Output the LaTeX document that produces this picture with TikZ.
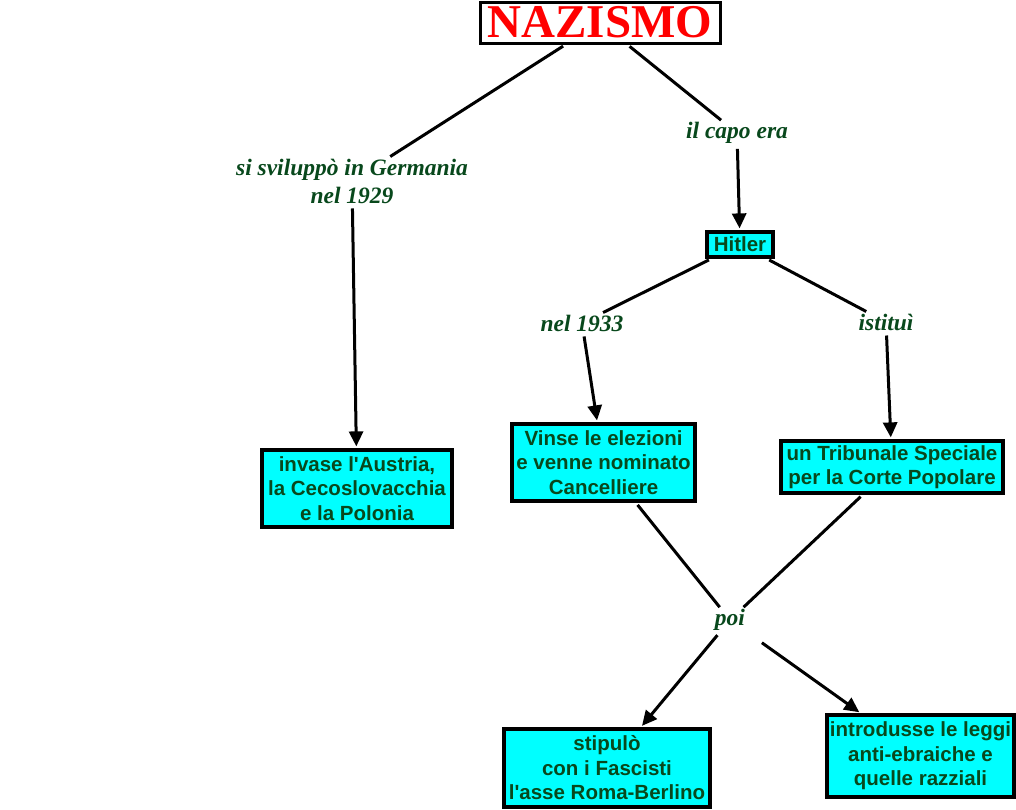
\documentclass[tikz,border=0pt]{standalone}
\usepackage{fontspec}
\setmainfont{Liberation Serif}
\setsansfont{Liberation Sans}
\usetikzlibrary{arrows.meta}
\definecolor{txtgreen}{RGB}{8,72,28}
\definecolor{boxcyan}{RGB}{0,255,255}
\definecolor{titlered}{RGB}{255,0,0}
\begin{document}
\begin{tikzpicture}[x=1pt,y=-1pt,
  conceptbox/.style={draw=black, line width=3.2pt, fill=boxcyan, text=txtgreen,
    font=\sffamily\bfseries\fontsize{20.5}{24.5}\selectfont, align=center, inner sep=0pt},
  titlebox/.style={draw=black, line width=3pt, fill=white, text=titlered,
    font=\rmfamily\bfseries\fontsize{47}{50}\selectfont, inner sep=0pt,
    minimum width=240pt, minimum height=41pt},
  linklabel/.style={text=txtgreen, font=\rmfamily\bfseries\itshape\fontsize{23.5}{28}\selectfont,
    align=center, inner sep=2pt},
  conn/.style={line width=3pt, shorten <=3pt},
  arr/.style={conn, -{Triangle[length=15pt,width=14pt]}, shorten >=2pt}
]
\useasboundingbox (0,0) rectangle (1016,809);

\node[titlebox] (title) at (600,22.5) {NAZISMO};

\node[linklabel] (l1) at (352,181) {si sviluppò in Germania\\nel 1929};
\node[linklabel] (l2) at (737,133) {il capo era};
\node[linklabel] (l3) at (582,323) {nel 1933};
\node[linklabel] (l4) at (886,322) {istituì};
\node[linklabel] (poi) at (730,620) {poi};

\node[conceptbox, minimum width=66pt, minimum height=25pt] (hitler) at (740,244.5) {Hitler};
\node[conceptbox, minimum width=190pt, minimum height=77pt] (invase) at (357,488.5)
  {invase l\textquotesingle Austria,\\la Cecoslovacchia\\e la Polonia};
\node[conceptbox, minimum width=183pt, minimum height=77pt] (vinse) at (603.5,462.5)
  {Vinse le elezioni\\e venne nominato\\Cancelliere};
\node[conceptbox, minimum width=222pt, minimum height=52pt] (trib) at (892,467)
  {un Tribunale Speciale\\per la Corte Popolare};
\node[conceptbox, minimum width=206pt, minimum height=78pt] (stip) at (607,768)
  {stipulò\\con i Fascisti\\l\textquotesingle asse Roma-Berlino};
\node[conceptbox, minimum width=187pt, minimum height=82pt] (intro) at (920.5,756)
  {introdusse le leggi\\anti-ebraiche e\\quelle razziali};

\draw[conn] (title) -- (l1);
\draw[arr] (l1) -- (invase);
\draw[conn] (title) -- (l2);
\draw[arr] (l2) -- (hitler);
\draw[conn] (hitler) -- (l3);
\draw[arr] (l3) -- (vinse);
\draw[conn] (hitler) -- (l4);
\draw[arr] (l4) -- (trib);
\draw[conn] (vinse) -- (poi);
\draw[conn] (trib) -- (poi);
\draw[arr] (poi) -- (stip);
\draw[arr, shorten <=18pt] (poi) -- (intro);
\end{tikzpicture}
\end{document}
